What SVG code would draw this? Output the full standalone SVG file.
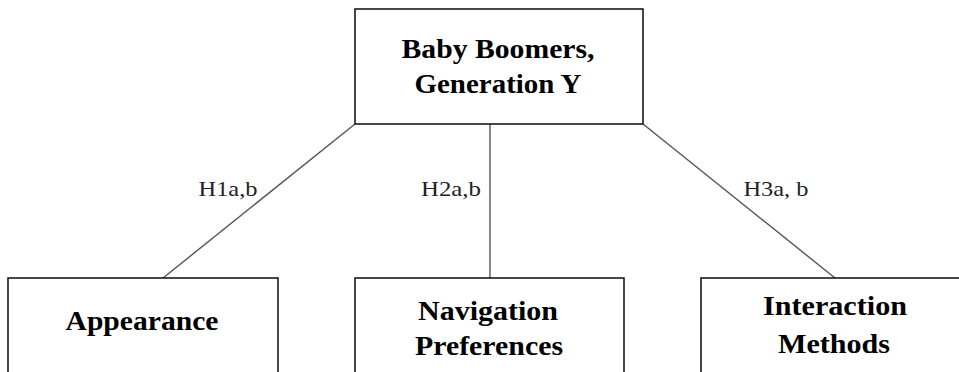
<svg xmlns="http://www.w3.org/2000/svg" width="959" height="372" viewBox="0 0 959 372">
<style>
.box{fill:#fff;stroke:#1a1a1a;stroke-width:1.6}
.t{font-family:"Liberation Serif","Times New Roman",serif;font-weight:bold;font-size:28px;fill:#000;text-anchor:middle}
.l{font-family:"Liberation Serif","Times New Roman",serif;font-size:22px;fill:#222;text-anchor:middle}
.c{stroke:#555;stroke-width:1.4;fill:none}
</style>
<rect width="959" height="372" fill="#fff"/>
<g id="connectors">
<line class="c" x1="355" y1="124" x2="163" y2="278"/>
<line class="c" x1="490" y1="124" x2="490" y2="278" stroke="#222"/>
<line class="c" x1="643" y1="124" x2="835" y2="278"/>
<text class="l" x="228" y="196" textLength="59" lengthAdjust="spacingAndGlyphs">H1a,b</text>
<text class="l" x="451" y="196" textLength="60" lengthAdjust="spacingAndGlyphs">H2a,b</text>
<text class="l" x="776" y="196" textLength="65" lengthAdjust="spacingAndGlyphs">H3a, b</text>
</g>
<g id="top">
<rect class="box" x="355" y="9" width="288" height="115"/>
<text class="t" x="498" y="58" textLength="193" lengthAdjust="spacingAndGlyphs">Baby Boomers,</text>
<text class="t" x="498" y="93" textLength="167" lengthAdjust="spacingAndGlyphs">Generation Y</text>
</g>
<g id="appearance">
<rect class="box" x="8" y="278" width="270" height="110"/>
<text class="t" x="142" y="330" textLength="153" lengthAdjust="spacingAndGlyphs">Appearance</text>
</g>
<g id="navigation">
<rect class="box" x="355" y="278" width="269" height="110"/>
<text class="t" x="488" y="320" textLength="140" lengthAdjust="spacingAndGlyphs">Navigation</text>
<text class="t" x="489" y="355" textLength="148" lengthAdjust="spacingAndGlyphs">Preferences</text>
</g>
<g id="interaction">
<rect class="box" x="701" y="278" width="270" height="110"/>
<text class="t" x="835" y="315" textLength="144" lengthAdjust="spacingAndGlyphs">Interaction</text>
<text class="t" x="834" y="353" textLength="112" lengthAdjust="spacingAndGlyphs">Methods</text>
</g>
</svg>
